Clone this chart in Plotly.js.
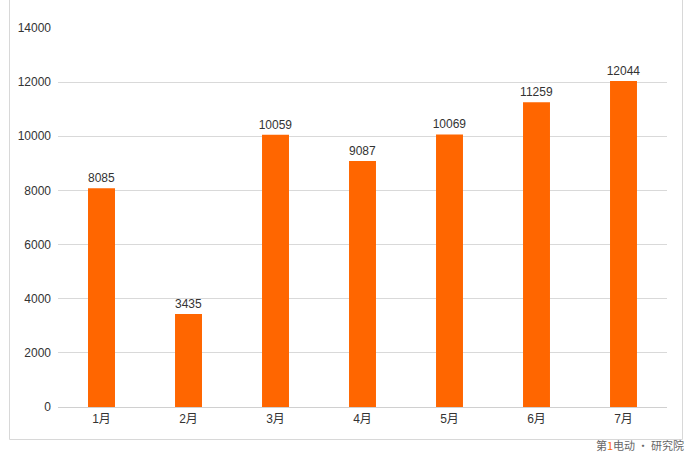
<!DOCTYPE html>
<html>
<head>
<meta charset="utf-8">
<script src="https://cdn.plot.ly/plotly-3.0.1.min.js"></script>
<style>
html,body{margin:0;padding:0;background:#fff;}
#chart{width:691px;height:458px;}
</style>
</head>
<body>
<div id="chart"></div>
<script>
const months = ["1月","2月","3月","4月","5月","6月","7月"];
const sales = [8085, 3435, 10059, 9087, 10069, 11259, 12044];
const yTicks = [0, 2000, 4000, 6000, 8000, 10000, 12000, 14000];

const W = 691, H = 458;
const m = {l: 58, r: 24, t: 28, b: 51};
const pw = W - m.l - m.r, ph = H - m.t - m.b;
const px = v => (v - m.l) / pw;
const py = v => (H - m.b - v) / ph;

const trace = {
  type: "bar",
  x: months,
  y: sales,
  marker: {color: "#ff6600"},
  text: sales.map(String),
  textposition: "outside",
  constraintext: "none",
  cliponaxis: false,
  textfont: {family: "Liberation Sans, Arial, sans-serif", size: 12, color: "#333333"},
  hoverinfo: "none"
};

const layout = {
  width: W, height: H,
  margin: m,
  paper_bgcolor: "#ffffff",
  plot_bgcolor: "#ffffff",
  showlegend: false,
  bargap: 0.69,
  font: {family: "Liberation Sans, Arial, sans-serif", size: 12, color: "#333333"},
  xaxis: {
    type: "category",
    showgrid: false,
    showline: false,
    zeroline: false,
    ticks: "",
    tickfont: {size: 12, color: "#333333", family: "Liberation Sans, Noto Sans CJK SC, sans-serif"},
    ticklabelstandoff: 3
  },
  yaxis: {
    range: [0, 14000],
    tickvals: yTicks,
    ticktext: yTicks.map(String),
    showgrid: true,
    gridcolor: "#d9d9d9",
    gridwidth: 1,
    zeroline: true,
    zerolinecolor: "#d0d0d0",
    showline: false,
    ticks: "",
    tickfont: {size: 12, color: "#333333"},
    ticklabelstandoff: 6
  },
  shapes: [{
    type: "rect", xref: "paper", yref: "paper",
    x0: px(9.5), x1: px(682.5), y0: py(439.5), y1: py(-3),
    line: {color: "#d8d8d8", width: 1},
    fillcolor: "rgba(0,0,0,0)"
  }],
  annotations: [{
    xref: "paper", yref: "paper",
    x: px(686), y: py(455),
    xanchor: "right", yanchor: "bottom",
    showarrow: false,
    text: '第<span style="color:#ff6600">1</span>电动 · 研究院',
    font: {family: "Noto Sans CJK SC, sans-serif", size: 11, color: "#666666"}
  }]
};

Plotly.newPlot("chart", [trace], layout, {staticPlot: true, displayModeBar: false});
</script>
</body>
</html>
